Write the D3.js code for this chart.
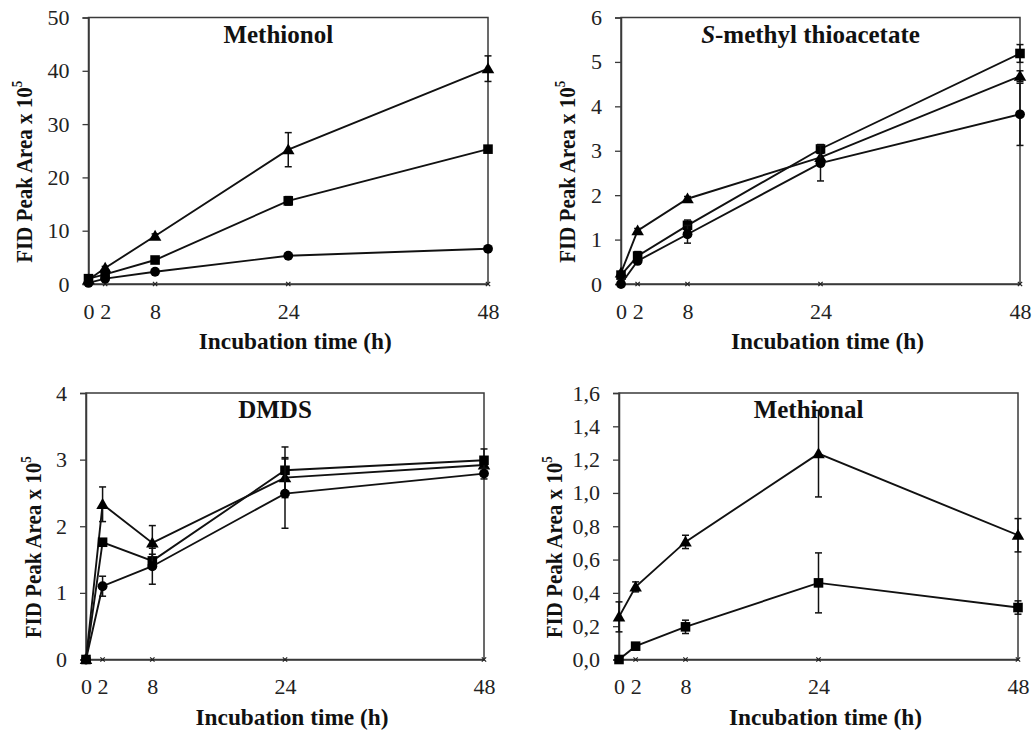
<!DOCTYPE html>
<html>
<head>
<meta charset="utf-8">
<script src="https://cdn.jsdelivr.net/npm/d3@7"></script>
<style>
  body { margin: 0; background: #fff; }
  svg text { font-family: "Liberation Serif", "Times New Roman", serif !important; }
</style>
</head>
<body>
<div id="chart-container"></div>
<script>
// sampling times (h) and their labels
const times = [0, 2, 8, 24, 48];
const xTickLabels = ["0", "2", "8", "24", "48"];

// Methionol
const methionolTriangle = [0.8, 3.0, 9.0, 25.2, 40.4];
const methionolTriangleErr = [0, 0.3, 0.4, 3.2, 2.4];
const methionolSquare = [1.0, 1.8, 4.5, 15.6, 25.3];
const methionolSquareErr = [0.2, 0.2, 0.3, 0.8, 0.5];
const methionolCircle = [0.2, 1.0, 2.3, 5.3, 6.6];
const methionolCircleErr = [0.1, 0.1, 0.2, 0.3, 0.3];

// S-methyl thioacetate
const smtaTriangle = [0.25, 1.2, 1.92, 2.85, 4.68];
const smtaTriangleErr = [0, 0.05, 0.05, 0.1, 0.12];
const smtaSquare = [0.2, 0.63, 1.32, 3.04, 5.19];
const smtaSquareErr = [0.05, 0.1, 0.12, 0.1, 0.2];
const smtaCircle = [0, 0.52, 1.12, 2.72, 3.82];
const smtaCircleErr = [0, 0.05, 0.2, 0.4, 0.7];

// DMDS
const dmdsTriangle = [0, 2.33, 1.75, 2.73, 2.92];
const dmdsTriangleErr = [0, 0.26, 0.26, 0.3, 0.1];
const dmdsSquare = [0, 1.76, 1.48, 2.84, 2.99];
const dmdsSquareErr = [0, 0.05, 0.1, 0.35, 0.17];
const dmdsCircle = [0, 1.10, 1.40, 2.49, 2.79];
const dmdsCircleErr = [0, 0.15, 0.27, 0.52, 0.08];

// Methional (no circle series)
const methionalTriangle = [0.256, 0.436, 0.706, 1.236, 0.746];
const methionalTriangleErr = [0.09, 0.03, 0.04, 0.26, 0.1];
const methionalSquare = [0, 0.08, 0.196, 0.46, 0.312];
const methionalSquareErr = [0, 0.01, 0.04, 0.18, 0.04];

// control series sitting on the x axis (x markers)
const control = [0, 0, 0, 0, 0];

// y ticks per panel
const methionolTicks = [0, 10, 20, 30, 40, 50];
const smtaTicks = [0, 1, 2, 3, 4, 5, 6];
const dmdsTicks = [0, 1, 2, 3, 4];
const methionalTicks = [0, 0.2, 0.4, 0.6, 0.8, 1.0, 1.2, 1.4, 1.6];
const methionalTickLabels = ["0,0", "0,2", "0,4", "0,6", "0,8", "1,0", "1,2", "1,4", "1,6"];

const panels = [
  { title: [["", "Methionol"]], ticks: methionolTicks, tickLabels: methionolTicks.map(String),
    series: [["triangle", methionolTriangle, methionolTriangleErr], ["square", methionolSquare, methionolSquareErr], ["circle", methionolCircle, methionolCircleErr]],
    left: 88.5, right: 488, top: 17.5, bottom: 284, ylabX: 32 },
  { title: [["italic", "S"], ["", "-methyl thioacetate"]], ticks: smtaTicks, tickLabels: smtaTicks.map(String),
    series: [["triangle", smtaTriangle, smtaTriangleErr], ["square", smtaSquare, smtaSquareErr], ["circle", smtaCircle, smtaCircleErr]],
    left: 621, right: 1020, top: 17.5, bottom: 284, ylabX: 575 },
  { title: [["", "DMDS"]], ticks: dmdsTicks, tickLabels: dmdsTicks.map(String),
    series: [["triangle", dmdsTriangle, dmdsTriangleErr], ["square", dmdsSquare, dmdsSquareErr], ["circle", dmdsCircle, dmdsCircleErr]],
    left: 86, right: 484, top: 393, bottom: 659.5, ylabX: 41 },
  { title: [["", "Methional"]], ticks: methionalTicks, tickLabels: methionalTickLabels,
    series: [["triangle", methionalTriangle, methionalTriangleErr], ["square", methionalSquare, methionalSquareErr]],
    left: 619, right: 1018, top: 393, bottom: 659.5, ylabX: 562 }
];

const symbolTypes = { triangle: d3.symbolTriangle, square: d3.symbolSquare, circle: d3.symbolCircle };
const symbolSizes = { triangle: 68, square: 92, circle: 76 };
const frameColor = "#3a3a3a";
const FONT = '"Liberation Serif", "Times New Roman", serif';

const svg = d3.select("#chart-container").append("svg")
  .attr("width", 1033)
  .attr("height", 732)
  .style("display", "block");

panels.forEach(p => {
  const x = d3.scaleLinear().domain([0, 48]).range([p.left, p.right]);
  const y = d3.scaleLinear().domain([0, d3.max(p.ticks)]).range([p.bottom, p.top]);
  const g = svg.append("g");
  const mid = (p.left + p.right) / 2;

  // frame (top and right edges)
  g.append("rect")
    .attr("x", p.left).attr("y", p.top)
    .attr("width", p.right - p.left).attr("height", p.bottom - p.top)
    .attr("fill", "none").attr("stroke", frameColor).attr("stroke-width", 1.5);

  // y axis
  const yAxis = g.append("g")
    .attr("transform", `translate(${p.left},0)`)
    .call(d3.axisLeft(y).tickValues(p.ticks).tickSize(6).tickPadding(13)
      .tickFormat((d, i) => p.tickLabels[i]));
  yAxis.attr("font-family", null);
  yAxis.select(".domain").attr("stroke", frameColor).attr("stroke-width", 1.5);
  yAxis.selectAll(".tick line").attr("stroke", frameColor).attr("stroke-width", 1.3);
  yAxis.selectAll(".tick text")
    .style("font-family", FONT).attr("font-size", 22).attr("fill", "#222");

  // x axis line with labels
  const xAxis = g.append("g")
    .attr("transform", `translate(0,${p.bottom})`)
    .call(d3.axisBottom(x).tickValues(times).tickSize(0).tickPadding(19)
      .tickFormat((d, i) => xTickLabels[i]));
  xAxis.attr("font-family", null);
  xAxis.select(".domain").attr("stroke", frameColor).attr("stroke-width", 1.5);
  xAxis.selectAll(".tick text")
    .style("font-family", FONT).attr("font-size", 22).attr("fill", "#222");

  // control markers on the axis
  g.selectAll(".ctrl")
    .data(times.map((t, i) => [t, control[i]]).slice(1))
    .join("path")
    .attr("transform", d => `translate(${x(d[0])},${y(d[1])})`)
    .attr("d", d3.symbol(d3.symbolTimes, 14))
    .attr("fill", "none").attr("stroke", "#222").attr("stroke-width", 1.2);

  // series: line, error bars, markers
  p.series.forEach(([shape, vals, errs]) => {
    const pts = times.map((t, i) => ({ t, v: vals[i], e: errs[i] }));

    g.append("path")
      .datum(pts)
      .attr("d", d3.line().x(d => x(d.t)).y(d => y(d.v)))
      .attr("fill", "none").attr("stroke", "#111").attr("stroke-width", 1.9);

    const eb = g.append("g").attr("stroke", "#111").attr("stroke-width", 1.5);
    pts.filter(d => d.e > 0).forEach(d => {
      const cx = x(d.t), y1 = y(d.v + d.e), y2 = y(Math.max(0, d.v - d.e));
      eb.append("line").attr("x1", cx).attr("x2", cx).attr("y1", y1).attr("y2", y2);
      eb.append("line").attr("x1", cx - 3.5).attr("x2", cx + 3.5).attr("y1", y1).attr("y2", y1);
      eb.append("line").attr("x1", cx - 3.5).attr("x2", cx + 3.5).attr("y1", y2).attr("y2", y2);
    });

    g.selectAll(null)
      .data(pts)
      .join("path")
      .attr("transform", d => `translate(${x(d.t)},${y(d.v) + (shape === "triangle" ? 1 : 0)})`)
      .attr("d", d3.symbol(symbolTypes[shape], symbolSizes[shape]))
      .attr("fill", "#000");
  });

  // panel title
  const title = g.append("text")
    .attr("x", mid - 10).attr("y", p.top + 25)
    .attr("text-anchor", "middle")
    .style("font-family", FONT)
    .attr("font-size", 25).attr("font-weight", "bold").attr("fill", "#111");
  p.title.forEach(([style, txt]) => {
    title.append("tspan").attr("font-style", style || null).text(txt);
  });

  // x axis title
  g.append("text")
    .attr("x", mid + 7).attr("y", p.bottom + 65)
    .attr("text-anchor", "middle")
    .style("font-family", FONT)
    .attr("font-size", 23).attr("font-weight", "bold").attr("fill", "#111")
    .attr("textLength", 193).attr("lengthAdjust", "spacingAndGlyphs")
    .text("Incubation time (h)");

  // y axis title (condensed, as in the original figure)
  const yl = g.append("text")
    .attr("transform", `translate(${p.ylabX},${(p.top + p.bottom) / 2 + 21}) rotate(-90)`)
    .attr("text-anchor", "middle")
    .style("font-family", FONT)
    .attr("font-size", 22.5).attr("font-weight", "bold").attr("fill", "#111")
    .attr("textLength", 182).attr("lengthAdjust", "spacingAndGlyphs");
  yl.append("tspan").text("FID Peak Area x 10");
  yl.append("tspan").attr("font-size", 14).attr("dy", "-0.75em").text("5");
});
</script>
</body>
</html>
